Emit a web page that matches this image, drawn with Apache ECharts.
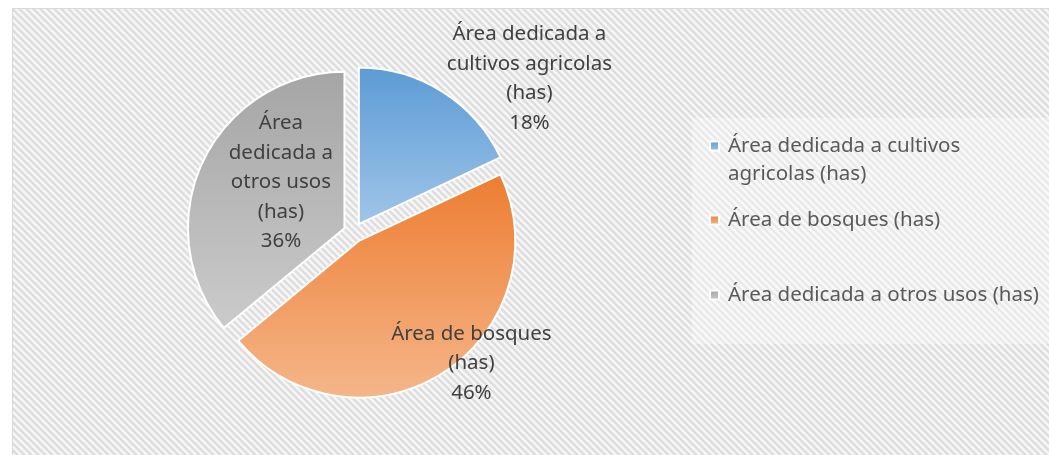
<!DOCTYPE html>
<html><head><meta charset="utf-8">
<script src="https://cdn.jsdelivr.net/npm/echarts@6/dist/echarts.min.js"></script>
<style>html,body{margin:0;padding:0;background:#fff}#c{width:1049px;height:455px}</style>
</head><body><div id="c"></div>
<script>
// ---- data ----
const categories = ['Área dedicada a cultivos agricolas (has)', 'Área de bosques (has)', 'Área dedicada a otros usos (has)'];
const values = [18, 46, 36];
const labelText = ['Área dedicada a\ncultivos agricolas\n(has)', 'Área de bosques\n(has)', 'Área\ndedicada a\notros usos\n(has)'];
const legendText = ['\nÁrea dedicada a cultivos\nagricolas (has)', 'Área de bosques (has)', 'Área dedicada a otros usos (has)'];

// ---- styles ----
const colorTop = ['#5B9BD5', '#ED7D31', '#A5A5A5'];
const colorBottom = ['#A0C5E8', '#F5B68A', '#CBCBCB'];
const labelOffsets = [[127, -77], [69, 54], [10, -11]];
const legendTops = [104, 206, 281];
const FONT = '"Noto Sans", sans-serif';

function makePattern() {
  const p = 7, c = document.createElement('canvas');
  c.width = p; c.height = p;
  const ctx = c.getContext('2d');
  const img = ctx.createImageData(p, p);
  for (let y = 0; y < p; y++) for (let x = 0; x < p; x++) {
    const t = ((((x - y) % p) + p) % p) / p;
    const v = Math.round(234 + 15 * Math.cos(2 * Math.PI * t));
    const k = (y * p + x) * 4;
    img.data[k] = v; img.data[k + 1] = v; img.data[k + 2] = v; img.data[k + 3] = 255;
  }
  ctx.putImageData(img, 0, 0);
  return c;
}

const chart = echarts.init(document.getElementById('c'), null, {renderer: 'canvas'});
const option = {
  backgroundColor: '#ffffff',
  animation: false,
  graphic: [
    {type: 'rect', z: -10, silent: true,
     shape: {x: 12.5, y: 8.5, width: 1060, height: 470},
     style: {fill: {image: makePattern(), repeat: 'repeat'}, stroke: '#d9d9d9', lineWidth: 1}},
    {type: 'rect', z: -9, silent: true,
     shape: {x: 692, y: 118, width: 360, height: 226},
     style: {fill: 'rgba(255,255,255,0.35)'}}
  ],
  legend: categories.map((n, i) => ({
    data: [n], orient: 'vertical', left: 709, top: legendTops[i], padding: 0,
    itemWidth: 9, itemHeight: 9, icon: 'rect', selectedMode: false,
    formatter: () => legendText[i],
    textStyle: {color: '#595959', fontSize: 20.5, fontFamily: FONT, lineHeight: 28, padding: [0, 0, 0, 4]}
  })),
  series: [{
    type: 'pie', center: [353.5, 232.5], radius: 156.5, startAngle: 90, clockwise: true,
    selectedMode: 'multiple', selectedOffset: 10, avoidLabelOverlap: false,
    itemStyle: {borderColor: '#ffffff', borderWidth: 2},
    label: {show: true, position: 'inside', color: '#404040', fontSize: 20.5, fontFamily: FONT, lineHeight: 29.5, align: 'center'},
    labelLine: {show: false},
    labelLayout: (p) => ({dx: labelOffsets[p.dataIndex][0], dy: labelOffsets[p.dataIndex][1]}),
    emphasis: {disabled: true},
    data: categories.map((n, i) => ({
      name: n, value: values[i], selected: true,
      itemStyle: {color: {type: 'linear', x: 0, y: 0, x2: 0, y2: 1,
        colorStops: [{offset: 0, color: colorTop[i]}, {offset: 1, color: colorBottom[i]}]}},
      label: {formatter: labelText[i] + '\n{d}%'}
    }))
  }]
};
chart.setOption(option);
</script></body></html>
